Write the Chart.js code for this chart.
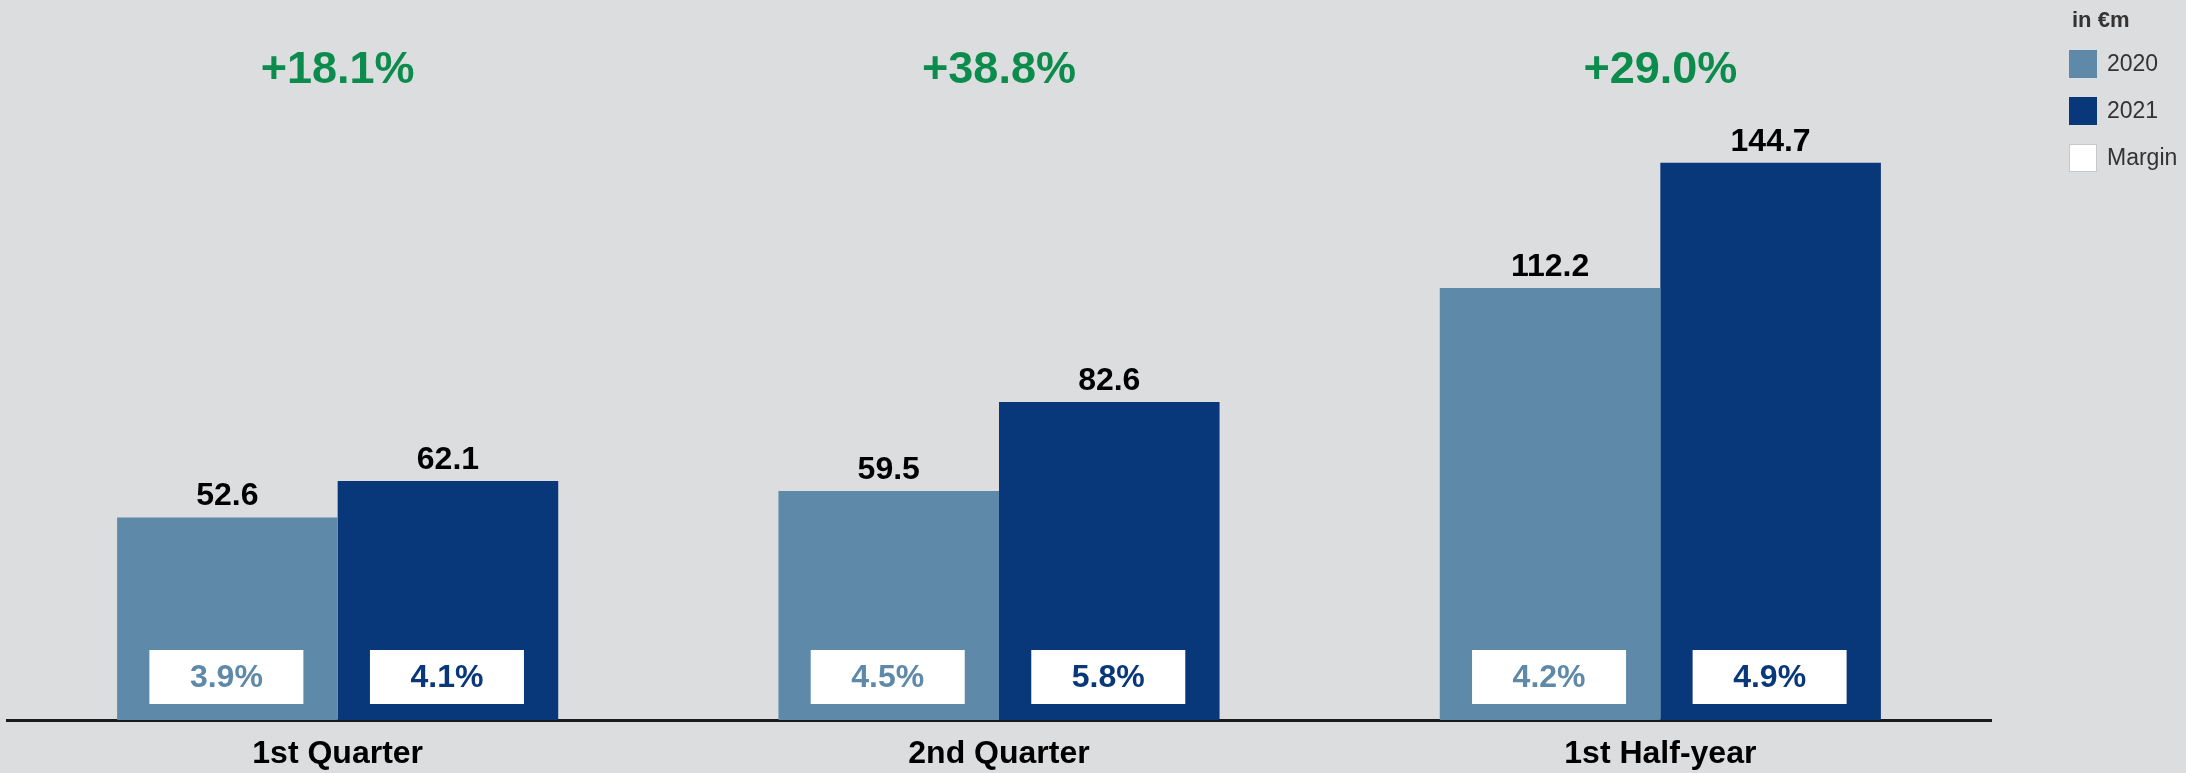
<!DOCTYPE html>
<html lang="en">
<head>
    <meta charset="UTF-8">
    <title>Sales by period</title>
    <script src="https://cdn.jsdelivr.net/npm/chart.js"></script>
    <style>
        body { margin: 0; background: #dcdddf; }
        canvas { display: block; }
    </style>
</head>
<body>
    <canvas id="myChart" width="2186" height="773"></canvas>
    <script>
        const periods = ['1st Quarter', '2nd Quarter', '1st Half-year'];
        const sales2020 = [52.6, 59.5, 112.2];
        const sales2021 = [62.1, 82.6, 144.7];
        const margin2020 = [3.9, 4.5, 4.2];
        const margin2021 = [4.1, 5.8, 4.9];
        const growth = [18.1, 38.8, 29.0];

        const FONT = '"Liberation Sans", Arial, sans-serif';
        const col2020 = '#5e89a8';
        const col2021 = '#08377a';

        // labels, margin boxes, growth figures and the legend
        const overlay = {
            id: 'overlay',
            afterDatasetsDraw(chart) {
                const ctx = chart.ctx;
                const area = chart.chartArea;
                const margins = [margin2020, margin2021];
                ctx.save();
                chart.data.datasets.forEach((ds, i) => {
                    const meta = chart.getDatasetMeta(i);
                    meta.data.forEach((bar, j) => {
                        // value above bar
                        ctx.font = 'bold 32px ' + FONT;
                        ctx.fillStyle = '#000';
                        ctx.textAlign = 'center';
                        ctx.textBaseline = 'alphabetic';
                        ctx.fillText(ds.data[j].toFixed(1), bar.x, bar.y - 12);

                        // margin box
                        const bw = 154, bh = 54;
                        const by = area.bottom - 16 - bh;
                        ctx.fillStyle = '#fff';
                        ctx.fillRect(bar.x - bw / 2 - 1, by, bw, bh);
                        ctx.fillStyle = ds.backgroundColor;
                        ctx.textBaseline = 'middle';
                        ctx.fillText(margins[i][j].toFixed(1) + '%', bar.x - 1, by + bh / 2 + 1);
                    });
                });

                // growth per period
                const x = chart.scales.x;
                ctx.font = 'bold 45px ' + FONT;
                ctx.fillStyle = '#0b8c4c';
                ctx.textAlign = 'center';
                ctx.textBaseline = 'middle';
                growth.forEach((g, j) => {
                    ctx.fillText('+' + g.toFixed(1) + '%', x.getPixelForValue(j), 71);
                });

                // legend
                ctx.textAlign = 'left';
                ctx.fillStyle = '#333';
                ctx.font = 'bold 22px ' + FONT;
                ctx.fillText('in €m', 2072, 21);
                const items = [['2020', col2020], ['2021', col2021], ['Margin', '#fff']];
                ctx.font = '23px ' + FONT;
                items.forEach((it, k) => {
                    const cy = 64 + k * 47;
                    ctx.fillStyle = it[1];
                    ctx.fillRect(2069, cy - 14, 28, 28);
                    if (it[0] === 'Margin') {
                        ctx.strokeStyle = '#c8c8c8';
                        ctx.lineWidth = 1;
                        ctx.strokeRect(2069.5, cy - 13.5, 27, 27);
                    }
                    ctx.fillStyle = '#333';
                    ctx.fillText(it[0], 2107, cy + 1);
                });
                ctx.restore();
            }
        };

        const ctx = document.getElementById('myChart').getContext('2d');
        const myChart = new Chart(ctx, {
            type: 'bar',
            data: {
                labels: periods,
                datasets: [{
                    label: '2020',
                    data: sales2020,
                    backgroundColor: col2020,
                    borderWidth: 0
                }, {
                    label: '2021',
                    data: sales2021,
                    backgroundColor: col2021,
                    borderWidth: 0
                }]
            },
            options: {
                responsive: false,
                animation: false,
                layout: { padding: { left: 7, right: 195, top: 0, bottom: 0 } },
                datasets: {
                    bar: { categoryPercentage: 0.667, barPercentage: 1.0 }
                },
                scales: {
                    x: {
                        grid: { display: false, drawTicks: false },
                        border: { display: true, color: '#1a1a1a', width: 3 },
                        ticks: {
                            color: '#000',
                            padding: 15,
                            font: { family: FONT, size: 32, weight: 'bold' }
                        },
                        afterFit: s => { s.height = 53; }
                    },
                    y: {
                        display: false,
                        min: 0,
                        max: 187
                    }
                },
                plugins: {
                    legend: { display: false },
                    tooltip: { enabled: false }
                }
            },
            plugins: [overlay]
        });
    </script>
</body>
</html>
